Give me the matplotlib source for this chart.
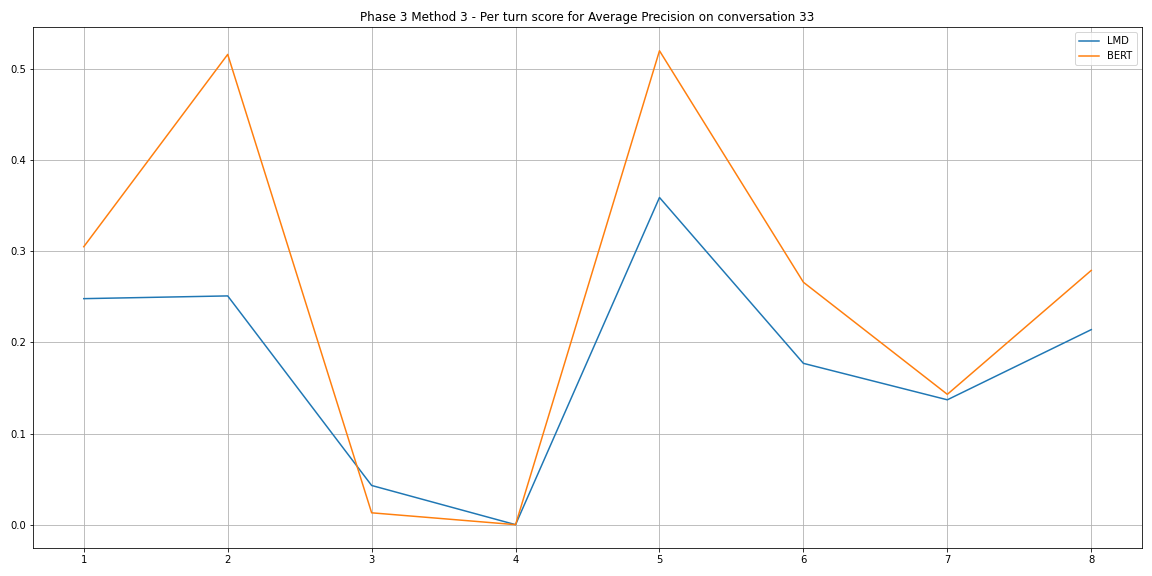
import matplotlib
matplotlib.use("Agg")
import matplotlib.pyplot as plt

turns = [1, 2, 3, 4, 5, 6, 7, 8]
lmd = [0.248, 0.251, 0.043, 0.0, 0.359, 0.177, 0.137, 0.214]
bert = [0.305, 0.516, 0.013, 0.0, 0.520, 0.266, 0.143, 0.279]

fig, ax = plt.subplots(figsize=(16, 8), dpi=72)
ax.plot(turns, lmd, label="LMD", color="#1f77b4")
ax.plot(turns, bert, label="BERT", color="#ff7f0e")
ax.set_title("Phase 3 Method 3 - Per turn score for Average Precision on conversation 33")
ax.grid(True)
ax.legend(loc="upper right")
fig.subplots_adjust(left=0.029, right=0.991, top=0.953, bottom=0.048)
fig.savefig("out.png", dpi=72)
